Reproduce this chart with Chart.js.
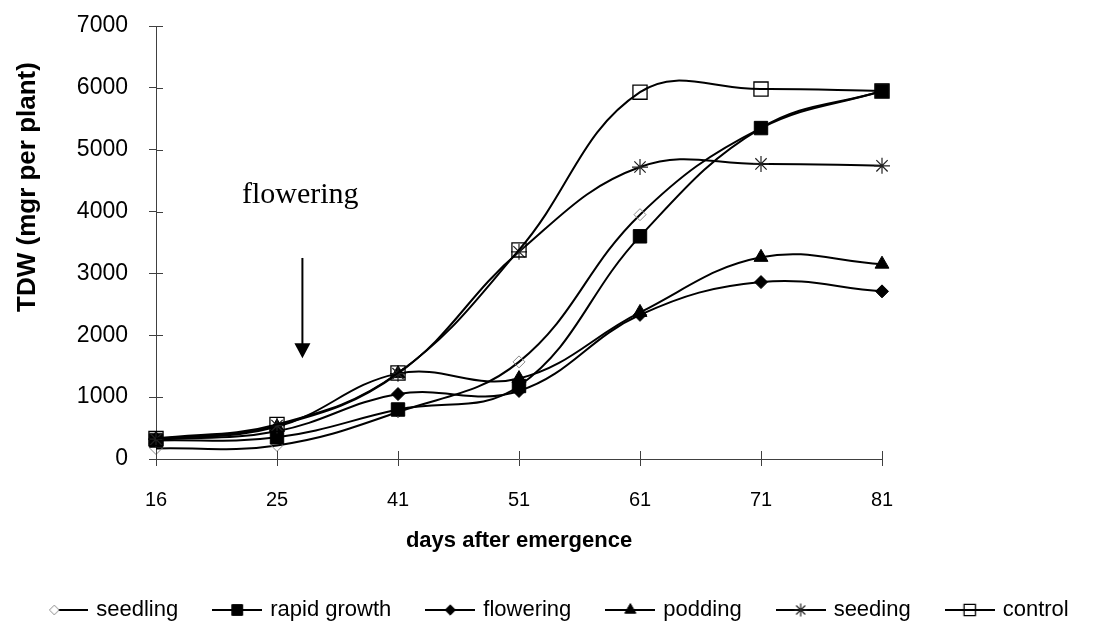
<!DOCTYPE html>
<html lang="en">
  <head>
    <meta charset="utf-8">
    <title>TDW</title>
    <style>
      html, body { margin: 0; padding: 0; background: #fff; }
    </style>
  </head>
  <body>
    <canvas id="tdwCanvas" width="1110" height="631"></canvas>
    <script src="https://cdn.jsdelivr.net/npm/chart.js"></script>
    <script>
      let days = ["16", "25", "41", "51", "61", "71", "81"];
      let seedling = [170, 220, 760, 1570, 3950, 5350, 5950];
      let rapid_growth = [300, 350, 800, 1180, 3600, 5350, 5950];
      let flowering = [310, 450, 1050, 1100, 2330, 2860, 2710];
      let podding = [320, 520, 1380, 1300, 2370, 3260, 3150];
      let seeding = [320, 540, 1380, 3350, 4720, 4770, 4740];
      let control = [330, 560, 1390, 3380, 5930, 5980, 5950];
      let y_min = 0;
      let y_max = 7000;
      let y_step = 1000;

      // "flowering" arrow, in axis units (category index, TDW)
      let arrow_x = 1.21;
      let arrow_from = 3250;
      let arrow_to = 1630;
      let note_text = "flowering";
      let note_x = 0.71;
      let note_y = 4140;

      let sans = "'Liberation Sans', Arial, sans-serif";
      let serif = "'Liberation Serif', 'Times New Roman', serif";

      let series = [
        { label: "seedling", data: seedling, style: "rectRot", radius: 6, fill: "rgba(0,0,0,0)", border: "#8a8a8a", bw: 1 },
        { label: "rapid growth", data: rapid_growth, style: "rect", radius: 9.5, fill: "#000", border: "#000", bw: 1 },
        { label: "flowering", data: flowering, style: "rectRot", radius: 6.5, fill: "#000", border: "#000", bw: 1 },
        { label: "podding", data: podding, style: "triangle", radius: 8, fill: "#000", border: "#000", bw: 1 },
        { label: "seeding", data: seeding, style: "star", radius: 8, fill: "#000", border: "#222", bw: 1.2 },
        { label: "control", data: control, style: "rect", radius: 10, fill: "rgba(0,0,0,0)", border: "#000", bw: 1.3 },
      ];

      // legend symbol: line with the marker on it
      let legendSymbol = function (s, i) {
        let c = document.createElement("canvas");
        c.width = 50;
        c.height = 20;
        let ctx = c.getContext("2d");
        let mx = 25;
        let x0 = 0;
        if (i === 0) { mx = 16; x0 = 20; }
        ctx.strokeStyle = "#000";
        ctx.lineWidth = 2;
        ctx.beginPath();
        ctx.moveTo(x0, 10);
        ctx.lineTo(50, 10);
        ctx.stroke();
        ctx.fillStyle = s.fill;
        ctx.strokeStyle = s.border;
        ctx.lineWidth = s.bw;
        Chart.helpers.drawPoint(ctx, { pointStyle: s.style, radius: s.radius * 0.8, borderWidth: s.bw, rotation: 0 }, mx, 10);
        return c;
      };

      let notes = {
        id: "notes",
        afterDatasetsDraw: function (chart) {
          let ctx = chart.ctx;
          let x = chart.scales.x;
          let y = chart.scales.y;
          let area = chart.chartArea;
          ctx.save();

          // inner half of the tick marks
          ctx.strokeStyle = "#404040";
          ctx.lineWidth = 1;
          ctx.beginPath();
          for (let i = 0; i < days.length; i++) {
            let px = Math.round(x.getPixelForTick(i)) + 0.5;
            ctx.moveTo(px, area.bottom);
            ctx.lineTo(px, area.bottom - 8);
          }
          for (let v = y_min; v <= y_max; v += y_step) {
            let py = Math.round(y.getPixelForValue(v)) + 0.5;
            ctx.moveTo(area.left, py);
            ctx.lineTo(area.left + 7, py);
          }
          ctx.stroke();

          // arrow
          let ax = x.getPixelForValue(arrow_x);
          let ay0 = y.getPixelForValue(arrow_from);
          let ay1 = y.getPixelForValue(arrow_to);
          ctx.strokeStyle = "#000";
          ctx.fillStyle = "#000";
          ctx.lineWidth = 2;
          ctx.beginPath();
          ctx.moveTo(ax, ay0);
          ctx.lineTo(ax, ay1 - 12);
          ctx.stroke();
          ctx.beginPath();
          ctx.moveTo(ax, ay1);
          ctx.lineTo(ax - 8, ay1 - 15);
          ctx.lineTo(ax + 8, ay1 - 15);
          ctx.closePath();
          ctx.fill();

          ctx.font = "30px " + serif;
          ctx.textAlign = "left";
          ctx.textBaseline = "alphabetic";
          ctx.fillText(note_text, x.getPixelForValue(note_x), y.getPixelForValue(note_y));

          // y axis title
          ctx.translate(28, 187);
          ctx.rotate(-Math.PI / 2);
          ctx.font = "bold 26px " + sans;
          ctx.textAlign = "center";
          ctx.textBaseline = "middle";
          ctx.fillText("TDW (mgr per plant)", 0, 0);
          ctx.restore();
        },
      };

      new Chart(document.getElementById("tdwCanvas"), {
        type: "line",
        data: {
          labels: days,
          datasets: series.map(function (s, i) {
            return {
              label: s.label,
              data: s.data,
              order: series.length - i,
              borderColor: "#000",
              borderWidth: 2,
              tension: 0.4,
              fill: false,
              pointStyle: s.style,
              pointRadius: s.radius,
              pointHoverRadius: s.radius,
              pointBackgroundColor: s.fill,
              pointBorderColor: s.border,
              pointBorderWidth: s.bw,
            };
          }),
        },
        options: {
          responsive: false,
          animation: false,
          devicePixelRatio: 1,
          layout: { padding: { left: 0, right: 0, top: 26, bottom: 0 } },
          scales: {
            x: {
              type: "category",
              offset: false,
              grid: { display: true, drawOnChartArea: false, tickLength: 7, color: "#404040" },
              border: { display: true, color: "#404040", width: 1 },
              ticks: { color: "#000", font: { family: sans, size: 20 }, padding: 22, maxRotation: 0 },
              title: {
                display: true,
                text: "days after emergence",
                color: "#000",
                font: { family: sans, size: 22, weight: "bold" },
                padding: { top: 0, bottom: 8 },
              },
              afterFit: function (scale) { scale.height = 103; },
            },
            y: {
              min: y_min,
              max: y_max,
              grid: { display: true, drawOnChartArea: false, tickLength: 7, color: "#404040" },
              border: { display: true, color: "#404040", width: 1 },
              ticks: {
                stepSize: y_step,
                color: "#000",
                font: { family: sans, size: 23 },
                padding: 21,
                callback: function (value) { return String(value); },
              },
              afterFit: function (scale) {
                scale.width = 156;
                scale.paddingTop = 0;
                scale.paddingBottom = 0;
              },
            },
            pad: {
              type: "linear",
              position: "right",
              grid: { display: false },
              border: { display: false },
              ticks: { display: false },
              afterFit: function (scale) {
                scale.width = 228;
                scale.paddingTop = 0;
                scale.paddingBottom = 0;
              },
            },
          },
          plugins: {
            tooltip: { enabled: false },
            legend: {
              display: true,
              position: "bottom",
              labels: {
                usePointStyle: true,
                pointStyleWidth: 44,
                padding: 37,
                color: "#000",
                font: { family: sans, size: 22 },
                generateLabels: function (chart) {
                  return series.map(function (s, i) {
                    return {
                      text: s.label,
                      pointStyle: legendSymbol(s, i),
                      fillStyle: "#000",
                      strokeStyle: "#000",
                      lineWidth: 0,
                      fontColor: "#000",
                      hidden: false,
                      datasetIndex: i,
                    };
                  });
                },
              },
            },
          },
        },
        plugins: [notes],
      });
    </script>
  </body>
</html>
